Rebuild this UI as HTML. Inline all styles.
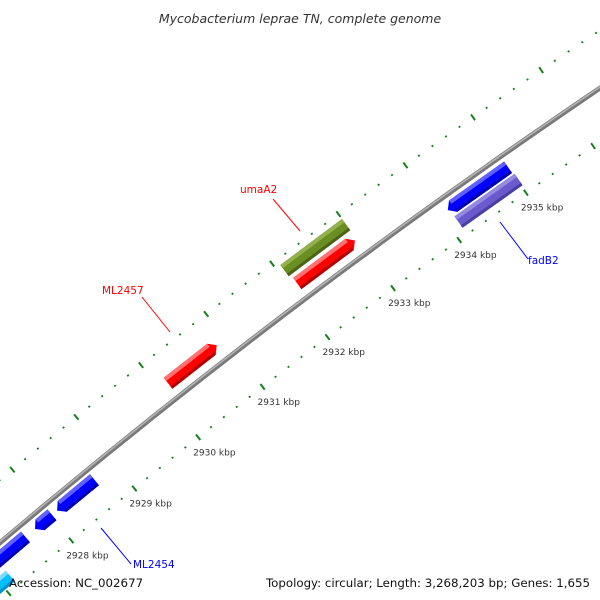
<!DOCTYPE html>
<html><head><meta charset="utf-8"><style>
html,body{margin:0;background:#fff;width:600px;height:600px;overflow:hidden}
svg{display:block}
text{font-family:"DejaVu Sans","Liberation Sans",sans-serif}
</style></head><body>
<svg id="map" width="600" height="600" viewBox="0 0 600 600">
<text x="300" y="23" text-anchor="middle" font-size="12.5" font-style="italic" fill="#333">Mycobacterium leprae TN, complete genome</text>
<g id="ticks"></g>
<g id="backbone"></g>
<g id="genes"></g>
<g id="labels"></g>
<text x="9" y="587" font-size="11.8" fill="#111">Accession: NC_002677</text>
<text x="590" y="587" text-anchor="end" font-size="11.8" fill="#111">Topology: circular; Length: 3,268,203 bp; Genes: 1,655</text>
</svg>
<script>
// data
const majorTicks=[2926,2927,2928,2929,2930,2931,2932,2933,2934,2935,2936,2937];
const labeledTicks=[2928,2929,2930,2931,2932,2933,2934,2935];
const geneNames=["cyan-gene","ML2453a","ML2453b","ML2454","ML2457","umaA2","red-gene-2","fadB2-blue","fadB2"];
const geneStart=[2926.4,2926.9,2927.75,2928.1,2930.12,2932.07,2932.1,2934.1,2934.12];
const geneEnd=[2927.15,2927.6,2928.02,2928.69,2930.87,2933.0,2932.97,2935.0,2935.02];
const geneStrand=[0,-1,-1,-1,1,0,1,-1,0];
const geneLane=[32,12,12,12,-17,-35,-17,13,29];
const geneColor=["#00bfff","#0000ff","#0000ff","#0000ff","#ff0000","#6b8e23","#ff0000","#0000ff","#6a5acd"];
const geneHi=["#7fdcff","#6060ff","#6060ff","#6060ff","#ff7070","#93b04e","#ff7070","#6060ff","#948ae0"];
const geneLo=["#0090c0","#0000b0","#0000b0","#0000b0","#b00000","#4a6418","#b00000","#0000b0","#4a3ea0"];

const NS="http://www.w3.org/2000/svg";
const R=7000, K0=2932, PXK=82.3;
const u={x:0.798,y:-0.603}, n={x:0.603,y:0.798}, M={x:301,y:302};
const C={x:M.x+n.x*R,y:M.y+n.y*R};
function pt(k,off){const th=(k-K0)*PXK/R, r=R-off;
 return {x:C.x+r*(-n.x*Math.cos(th)+u.x*Math.sin(th)), y:C.y+r*(-n.y*Math.cos(th)+u.y*Math.sin(th))};}
function mk(tag,attrs,parent){const e=document.createElementNS(NS,tag);for(const a in attrs)e.setAttribute(a,attrs[a]);parent.appendChild(e);return e;}

// ticks
const tg=document.getElementById('ticks');
for(let i=0;i<=60;i++){
 const k=2925.6+i*0.2; const kr=Math.round(k*10)/10;
 const major=Math.abs(kr-Math.round(kr))<0.01;
 const len=major?7:1.8;
 [44,-48].forEach(off=>{
  const a=pt(kr,off-len/2), b=pt(kr,off+len/2);
  const l=mk('line',{x1:a.x,y1:a.y,x2:b.x,y2:b.y,stroke:'#16801a','stroke-width':2},tg);
  
  
 });
}
labeledTicks.forEach(k=>{
 const p=pt(k,44);
 const t=mk('text',{x:p.x-5,y:p.y+18,'font-size':9,fill:'#333'},tg);
 t.textContent=k+' kbp';
 
 
});

// backbone
const bg=document.getElementById('backbone');
let d='';for(let k=2925;k<=2938.01;k+=0.25){const p=pt(k,0);d+=(d?'L':'M')+p.x.toFixed(1)+' '+p.y.toFixed(1);}
const b1=mk('path',{d:d,stroke:'#7a7a7a','stroke-width':5,fill:'none'},bg);


const b2=mk('path',{d:d,stroke:'#b4b4b4','stroke-width':1.6,fill:'none',transform:'translate(-0.6,-0.8)'},bg);



// genes
const gg=document.getElementById('genes');
function poly(ps){return ps.map(p=>p.x.toFixed(1)+','+p.y.toFixed(1)).join(' ');}
geneNames.forEach((nm,i)=>{
 const k1=geneStart[i],k2=geneEnd[i],off=geneLane[i],hw=7,s=geneStrand[i],h=0.08;
 let ps;
 if(s===1) ps=[pt(k1,off-hw),pt(k2-h,off-hw),pt(k2,off),pt(k2-h,off+hw),pt(k1,off+hw)];
 else if(s===-1) ps=[pt(k1+h,off-hw),pt(k2,off-hw),pt(k2,off+hw),pt(k1+h,off+hw),pt(k1,off)];
 else ps=[pt(k1,off-hw),pt(k2,off-hw),pt(k2,off+hw),pt(k1,off+hw)];
 const g=mk('g',{},gg);
 
 
 mk('polygon',{points:poly(ps),fill:geneColor[i]},g);
 const a1=s===-1?k1+h:k1, a2=s===1?k2-h:k2;
 mk('polygon',{points:poly([pt(a1,off-hw),pt(a2,off-hw),pt(a2,off-hw+4),pt(a1,off-hw+4)]),fill:geneHi[i]},g);
 mk('polygon',{points:poly([pt(a1,off+hw-3),pt(a2,off+hw-3),pt(a2,off+hw),pt(a1,off+hw)]),fill:geneLo[i]},g);
});

// labels
const lg=document.getElementById('labels');
const labs=[
 {t:'ML2454',x:133,y:568,c:'#0000ff',l:[101,528,131,564]},
 {t:'fadB2',x:528,y:264,c:'#0000ff',l:[500,222,528,259]},
 {t:'umaA2',x:240,y:193,c:'#ff0000',l:[273,199,300,231]},
 {t:'ML2457',x:102,y:294,c:'#ff0000',l:[142,297,170,332]}
];
labs.forEach(o=>{
 const ln=mk('line',{x1:o.l[0],y1:o.l[1],x2:o.l[2],y2:o.l[3],stroke:o.c,'stroke-width':1},lg);
 
 
 const t=mk('text',{x:o.x,y:o.y,'font-size':10.5,fill:o.c},lg);
 t.textContent=o.t;
 
 
});
</script>
</body></html>
